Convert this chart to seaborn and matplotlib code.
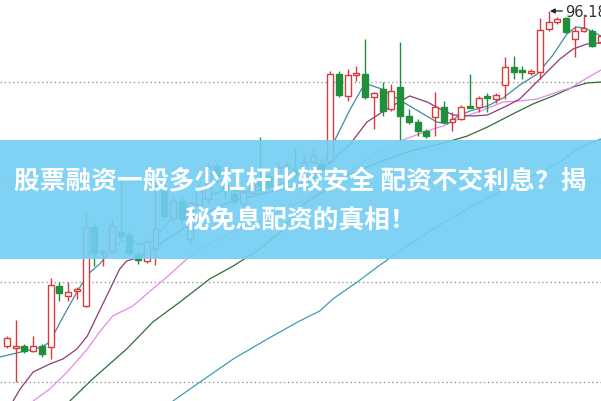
import matplotlib
matplotlib.use("Agg")
import matplotlib.pyplot as plt
import seaborn as sns

# candle data (price units), one entry per trading day
opens = [62.68, 62.48, 62.68, 62.18, 62.68, 62.58, 68.68, 67.68, 68.18, 66.68,
         74.58, 71.98, 72.18, 74.08, 73.78, 71.88, 71.18, 72.38, 78.18, 75.48,
         77.18, 73.38, 76.78, 77.38, 80.68, 78.88, 77.88, 76.88, 77.98, 79.18,
         79.68, 79.68, 80.48, 80.38, 80.18, 81.08, 80.88, 81.18, 89.88, 87.68,
         89.78, 89.88, 87.58, 88.38, 86.38, 88.58, 85.68, 85.08, 84.18, 85.58,
         86.58, 85.08, 85.38, 86.68, 86.58, 87.68, 87.38, 88.78, 90.58, 90.28,
         89.98, 90.08, 94.38, 95.08, 95.48, 93.38, 94.18, 94.18, 93.08]
closes = [63.48, 62.68, 62.18, 62.68, 61.88, 68.78, 67.98, 68.08, 68.38, 74.58,
          71.98, 72.18, 74.68, 73.68, 71.98, 71.28, 73.08, 74.38, 75.68, 77.18,
          75.38, 76.98, 78.38, 80.58, 79.68, 78.38, 77.08, 78.08, 78.98, 78.68,
          78.68, 80.58, 80.78, 79.88, 81.08, 81.68, 80.38, 89.88, 87.78, 89.78,
          89.98, 87.58, 87.98, 86.18, 88.18, 85.68, 85.08, 84.18, 83.68, 86.58,
          85.08, 85.38, 86.58, 86.48, 87.48, 87.48, 87.78, 90.58, 90.08, 90.08,
          90.18, 94.28, 95.08, 95.38, 94.08, 94.18, 94.48, 92.68, 93.68]
highs = [63.68, 65.28, 62.88, 63.68, 62.88, 69.48, 69.08, 69.08, 68.58, 76.08,
         74.98, 72.38, 75.48, 79.58, 74.18, 72.18, 73.38, 79.28, 79.08, 77.78,
         77.58, 77.28, 78.88, 81.08, 81.08, 79.88, 78.38, 78.68, 79.68, 83.58,
         80.08, 81.08, 81.08, 82.38, 81.68, 82.38, 81.38, 90.18, 90.18, 90.38,
         90.68, 93.38, 88.08, 89.08, 88.88, 93.08, 86.38, 85.38, 84.38, 88.08,
         87.18, 86.08, 86.78, 89.88, 87.68, 87.98, 87.98, 91.58, 91.68, 90.68,
         90.38, 95.48, 96.18, 95.58, 95.58, 94.68, 95.88, 94.38, 93.88]
lows = [62.48, 59.08, 61.98, 62.08, 61.58, 61.38, 67.18, 67.18, 67.38, 66.58,
        70.68, 70.68, 72.08, 73.38, 71.68, 70.88, 70.98, 70.78, 75.38, 75.08,
        74.98, 72.68, 76.38, 76.88, 78.98, 77.38, 76.68, 76.58, 77.78, 78.08,
        78.48, 79.48, 79.08, 79.38, 79.98, 80.88, 80.18, 80.88, 87.58, 87.18,
        89.18, 87.38, 84.38, 85.68, 86.18, 83.18, 84.88, 83.68, 83.48, 83.68,
        84.98, 84.18, 85.28, 86.48, 86.08, 86.08, 86.98, 87.38, 89.38, 89.38,
        89.78, 89.38, 94.18, 94.88, 93.98, 91.58, 94.08, 92.58, 92.88]

# moving average lines (x = day index)
ma5_x = [-0.8, 4.0, 4.9, 6.1, 8.0, 9.3, 10.6, 12.1, 12.9, 14.1, 14.9, 16.0, 16.9,
         17.5, 19.0, 20.6, 22.1, 23.6, 25.2, 26.7, 28.6, 30.1, 32.4, 34.7, 36.1,
         37.2, 39.3, 40.6, 41.2, 42.9, 43.8, 46.1, 49.2, 50.4, 51.5, 53.0, 55.0,
         56.8, 58.7, 60.7, 62.5, 64.1, 65.1, 66.1, 67.1, 68.0]
ma5_y = [61.58, 62.58, 63.08, 65.08, 68.08, 69.88, 70.88, 72.38, 73.08, 73.38,
         72.88, 72.88, 73.38, 74.08, 75.58, 76.38, 77.18, 77.88, 78.38, 78.08,
         78.18, 78.58, 79.08, 79.88, 80.58, 82.68, 86.38, 88.38, 88.88, 88.38,
         87.88, 86.68, 85.08, 84.88, 85.58, 86.18, 86.68, 87.48, 88.78, 89.88,
         91.78, 93.88, 94.58, 94.48, 94.08, 93.68]
ma10_x = [0.7, 1.5, 3.0, 4.9, 6.4, 8.0, 9.2, 10.3, 11.8, 12.9, 13.7, 15.2, 16.0,
          17.5, 19.2, 21.0, 23.2, 25.5, 27.8, 30.1, 32.4, 34.7, 37.0, 39.3, 41.2,
          43.5, 46.1, 48.1, 49.6, 51.1, 53.3, 55.0, 57.2, 58.7, 61.0, 63.3, 64.8,
          66.4, 68.0]
ma10_y = [57.18, 58.38, 60.08, 60.88, 61.38, 62.38, 63.68, 65.68, 68.38, 70.38,
          71.18, 71.58, 72.08, 72.88, 73.88, 74.88, 76.18, 77.08, 77.58, 78.08,
          78.58, 79.08, 81.08, 82.88, 85.08, 86.38, 87.68, 87.08, 86.38, 85.78,
          85.68, 85.78, 86.68, 87.38, 89.38, 91.38, 92.38, 92.88, 92.98]
ma20_x = [3.0, 4.9, 6.9, 9.2, 10.6, 12.1, 14.4, 16.4, 18.3, 20.6, 22.1, 25.5,
          29.0, 32.4, 35.8, 39.3, 42.1, 45.0, 48.1, 49.9, 52.2, 54.2, 56.8, 58.7,
          60.7, 63.0, 64.5, 66.4, 68.0]
ma20_y = [57.18, 58.38, 60.08, 62.38, 64.08, 65.68, 66.68, 68.18, 69.58, 71.38,
          72.38, 73.88, 75.18, 76.58, 78.08, 80.18, 81.88, 83.18, 84.18, 84.68,
          85.58, 86.18, 87.08, 87.18, 87.38, 88.08, 88.48, 89.48, 90.28]
ma60_x = [7.2, 9.8, 13.7, 16.7, 19.8, 23.2, 25.9, 28.6, 31.3, 33.5, 35.8, 39.3,
          42.7, 46.1, 49.6, 52.7, 55.0, 57.9, 60.2, 62.5, 64.8, 66.4, 68.0]
ma60_y = [57.18, 59.38, 62.38, 65.08, 67.08, 69.38, 70.68, 72.18, 74.08, 76.58,
          77.88, 79.88, 81.08, 82.18, 82.88, 83.68, 84.58, 85.88, 86.88, 87.68,
          88.58, 88.98, 89.08]
ma120_x = [19.0, 22.1, 25.9, 29.8, 33.5, 35.8, 37.3, 40.1, 42.7, 45.0, 48.8,
           52.7, 56.4, 59.9, 63.3, 65.6, 68.0]
ma120_y = [57.18, 59.08, 61.38, 63.38, 65.18, 66.18, 67.38, 69.08, 70.78, 72.18,
           74.38, 76.38, 78.08, 79.58, 81.08, 82.58, 83.38]

grid_levels = [89.08, 79.08, 69.08, 59.08]
peak_idx = 62
peak_label = "96.18"

title_line1 = "股票融资一般多少杠杆比较安全 配资不交利息？揭"
title_line2 = "秘免息配资的真相！"

UP = "#dc3a3a"
DOWN = "#1f8f3c"

sns.set_theme(style="white")
plt.rcParams['font.family'] = ['Noto Sans CJK SC', 'DejaVu Sans']

fig = plt.figure(figsize=(6.01, 4.02), dpi=100)
ax = fig.add_axes([0, 0, 1, 1])
ax.set_xlim(-0.8, 68.0)
ax.set_ylim(57.18, 97.38)
ax.axis("off")

for g in grid_levels:
    ax.axhline(g, color="#9a9a9a", lw=1.0, ls=(0, (1, 2)), zorder=1)

# moving averages
for xs, ys, col in [(ma120_x, ma120_y, "#3b9fb6"),
                    (ma60_x, ma60_y, "#2f6e35"),
                    (ma20_x, ma20_y, "#e48ae4"),
                    (ma10_x, ma10_y, "#8a3c74"),
                    (ma5_x, ma5_y, "#3f8ba0")]:
    sns.lineplot(x=xs, y=ys, ax=ax, color=col, lw=0.9, estimator=None,
                 sort=False, zorder=2)

# candles
for i in range(len(opens)):
    o, c, h, l = opens[i], closes[i], highs[i], lows[i]
    up = c >= o
    col = UP if up else DOWN
    lo, hi = min(o, c), max(o, c)
    ax.vlines(i, l, lo, color=col, lw=1.0, zorder=3)
    ax.vlines(i, hi, h, color=col, lw=1.0, zorder=3)
    body = max(hi - lo, 0.05)
    ax.bar(i, body, bottom=lo, width=0.68,
           facecolor="white" if up else col, edgecolor=col, lw=1.0, zorder=4)

# highest price marker
ax.annotate(peak_label, xy=(peak_idx, highs[peak_idx]),
            xytext=(peak_idx + 1.95, highs[peak_idx]),
            va="center", ha="left", fontsize=10.5, color="#333333",
            family=['DejaVu Sans'],
            arrowprops=dict(arrowstyle="-|>", color="#222222", lw=0.9,
                            mutation_scale=7, shrinkA=0, shrinkB=1),
            zorder=6)

# title banner
ax.axhspan(71.38, 83.28, color="#72cef3", alpha=0.9, lw=0, zorder=10)
fig.text(0.5, 1 - 182 / 402, title_line1, ha="center", va="center",
         fontsize=18.5, fontweight="bold", color="white", zorder=11)
fig.text(0.5, 1 - 220 / 402, title_line2, ha="center", va="center",
         fontsize=18.5, fontweight="bold", color="white", zorder=11)

fig.savefig("out.png", dpi=100)
